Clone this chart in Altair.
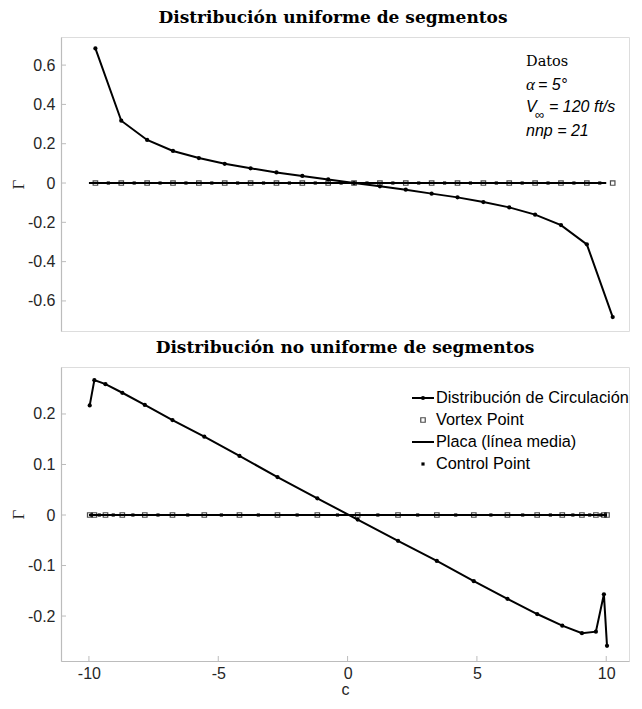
import altair as alt
import pandas as pd

# ---------------- data ----------------
# Top panel: uniform segment distribution (nnp = 21)
top_vortex_x = [-9.75, -8.75, -7.75, -6.75, -5.75, -4.75, -3.75, -2.75, -1.75, -0.75,
                0.25, 1.25, 2.25, 3.25, 4.25, 5.25, 6.25, 7.25, 8.25, 9.25, 10.25]
top_gamma = [0.685, 0.317, 0.219, 0.163, 0.127, 0.098, 0.075, 0.054, 0.036, 0.018,
             0.0, -0.017, -0.034, -0.054, -0.073, -0.097, -0.124, -0.161, -0.214, -0.312, -0.682]
top_control_x = [-9.25, -8.25, -7.25, -6.25, -5.25, -4.25, -3.25, -2.25, -1.25, -0.25,
                 0.75, 1.75, 2.75, 3.75, 4.75, 5.75, 6.75, 7.75, 8.75, 9.75]

# Bottom panel: non-uniform segment distribution
bot_vortex_x = [-9.97, -9.79, -9.36, -8.71, -7.84, -6.77, -5.54, -4.18, -2.71, -1.17,
                0.39, 1.95, 3.45, 4.88, 6.18, 7.33, 8.30, 9.06, 9.60, 9.91, 10.03]
bot_gamma = [0.217, 0.267, 0.259, 0.242, 0.218, 0.188, 0.155, 0.117, 0.075, 0.033,
             -0.009, -0.051, -0.091, -0.131, -0.166, -0.196, -0.219, -0.234, -0.231, -0.157, -0.259]
bot_control_x = [-9.91, -9.60, -9.06, -8.30, -7.33, -6.18, -4.88, -3.45, -1.95, -0.39,
                 1.17, 2.71, 4.18, 5.54, 6.77, 7.84, 8.71, 9.36, 9.79, 9.97]

plate_x = [-10, 10]
plate_y = [0, 0]

x_ticks = [-10, -5, 0, 5, 10]
top_y_ticks = [-0.6, -0.4, -0.2, 0, 0.2, 0.4, 0.6]
bot_y_ticks = [-0.2, -0.1, 0, 0.1, 0.2]
x_domain = [-11.08, 10.88]
top_y_domain = [-0.753, 0.743]
bot_y_domain = [-0.289, 0.293]

titles = ["Distribución uniforme de segmentos", "Distribución no uniforme de segmentos"]
legend_labels = ["Distribución de Circulación", "Vortex Point", "Placa (línea media)", "Control Point"]
info_lines = ["Datos", "α", "= 5°", "V", "∞", "= 120 ft/s", "nnp = 21"]

# ---------------- styling ----------------
W, H = 568, 294
SANS = "Liberation Sans"
SERIF = "DejaVu Serif"
AXIS_GRAY = "#bcbcbc"
LABEL_COL = "#262626"
MINUS = "\u2212"


def lab_expr(fmt):
    return ("datum.value == 0 ? '0' : replace(format(datum.value, '%s'), '%s', '-')"
            % (fmt, MINUS))


def panel(vx, gamma, cx, ydomain, yticks, yfmt, title, show_x, title_dx):
    if show_x:
        x_axis = alt.Axis(values=x_ticks, ticks=False, grid=False, title="c",
                          labelExpr=lab_expr("d"), labelPadding=4, titlePadding=0,
                          domainColor=AXIS_GRAY, domainWidth=1.2,
                          labelFont=SANS, labelFontSize=16, labelColor=LABEL_COL,
                          titleFont=SANS, titleFontSize=16, titleFontWeight="normal",
                          titleColor=LABEL_COL)
    else:
        x_axis = None
    X = alt.X("x:Q", scale=alt.Scale(domain=x_domain, nice=False, zero=False), axis=x_axis)
    Y = alt.Y("y:Q", scale=alt.Scale(domain=ydomain, nice=False, zero=False),
              axis=alt.Axis(values=yticks, ticks=False, grid=False, title="Γ",
                            labelExpr=lab_expr(yfmt), labelPadding=6, titlePadding=0,
                            domainColor=AXIS_GRAY, domainWidth=1.2,
                            labelFont=SANS, labelFontSize=16, labelColor=LABEL_COL,
                            titleFont="Liberation Serif", titleFontSize=17,
                            titleFontWeight="normal", titleColor=LABEL_COL))

    circ = pd.DataFrame({"x": vx, "y": gamma})
    vort = pd.DataFrame({"x": vx, "y": [0.0] * len(vx)})
    ctrl = pd.DataFrame({"x": cx, "y": [0.0] * len(cx)})
    plate = pd.DataFrame({"x": plate_x, "y": plate_y})
    yt = pd.DataFrame({"y": yticks})

    layers = [
        alt.Chart(circ).mark_line(color="black", strokeWidth=2).encode(x=X, y=Y),
        alt.Chart(circ).mark_circle(color="black", size=18, opacity=1).encode(x=X, y=Y),
        alt.Chart(vort).mark_point(shape="square", filled=False, color="black",
                                   size=20, strokeWidth=1.2).encode(x=X, y=Y),
        alt.Chart(plate).mark_line(color="black", strokeWidth=2).encode(x=X, y=Y),
        alt.Chart(ctrl).mark_square(color="black", size=10, opacity=1).encode(x=X, y=Y),
        alt.Chart(yt).mark_rule(color=AXIS_GRAY, strokeWidth=1).encode(
            y=Y, x=alt.value(0), x2=alt.value(5)),
    ]
    if show_x:
        xt = pd.DataFrame({"x": x_ticks})
        layers.append(alt.Chart(xt).mark_rule(color=AXIS_GRAY, strokeWidth=1).encode(
            x=X, y=alt.value(H), y2=alt.value(H - 5)))
    return alt.layer(*layers).properties(
        width=W, height=H,
        title=alt.TitleParams(title, font=SERIF, fontSize=17, fontWeight="bold",
                              color="black", offset=10, dx=title_dx, frame="group"))


def txt(s, x, y, font=SANS, size=16, italic=True, col="black"):
    return alt.Chart(pd.DataFrame({"t": [s]})).mark_text(
        align="left", baseline="middle", font=font, fontSize=size,
        fontStyle="italic" if italic else "normal", color=col
    ).encode(text="t:N", x=alt.value(x), y=alt.value(y))


top = panel(top_vortex_x, top_gamma, top_control_x, top_y_domain, top_y_ticks, ".1f",
            titles[0], False, -12)
info = [
    txt(info_lines[0], 465, 25, font=SERIF, size=14.5, italic=False),
    txt(info_lines[1], 465, 48, font="Liberation Serif", size=17),
    txt(info_lines[2], 477, 48),
    txt(info_lines[3], 465, 70),
    txt(info_lines[4], 474, 78, size=13, italic=False),
    txt(info_lines[5], 488, 70),
    txt(info_lines[6], 465, 94),
]
top = alt.layer(top, *info)

bottom = panel(bot_vortex_x, bot_gamma, bot_control_x, bot_y_domain, bot_y_ticks, ".1f",
               titles[1], True, 0)

# manual legend (top-right inside the lower axes)
LX0, LX1, LT = 351, 373, 375
LY = [31, 53, 75, 97]
leg_one = pd.DataFrame({"a": [0]})
legend = [
    alt.Chart(leg_one).mark_rule(color="black", strokeWidth=2).encode(
        x=alt.value(LX0), x2=alt.value(LX1), y=alt.value(LY[0])),
    alt.Chart(leg_one).mark_circle(color="black", size=18, opacity=1).encode(
        x=alt.value((LX0 + LX1) / 2), y=alt.value(LY[0])),
    alt.Chart(leg_one).mark_point(shape="square", filled=False, color="black",
                                  size=20, strokeWidth=1.2).encode(
        x=alt.value((LX0 + LX1) / 2), y=alt.value(LY[1])),
    alt.Chart(leg_one).mark_rule(color="black", strokeWidth=2).encode(
        x=alt.value(LX0), x2=alt.value(LX1), y=alt.value(LY[2])),
    alt.Chart(leg_one).mark_square(color="black", size=10, opacity=1).encode(
        x=alt.value((LX0 + LX1) / 2), y=alt.value(LY[3])),
]
for lab, yy in zip(legend_labels, LY):
    legend.append(txt(lab, LT, yy, size=16.3, italic=False))
bottom = alt.layer(bottom, *legend)

chart = alt.vconcat(top, bottom, spacing=6).resolve_scale(
    x="independent", y="independent"
).properties(
    padding={"left": 0, "top": 0, "right": 0, "bottom": 0}
).configure_view(stroke=None).configure(background="white")

chart.save("out.html", embed_options={"renderer": "svg", "actions": False})
